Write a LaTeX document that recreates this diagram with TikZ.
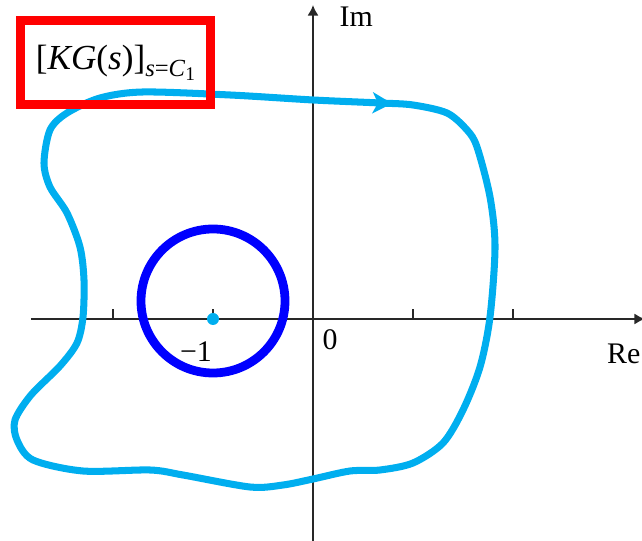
\documentclass[tikz,border=0pt]{standalone}
\usepackage{fontspec}
\setmainfont{Liberation Serif}
\usepackage{tikz}
\usetikzlibrary{arrows.meta, decorations.markings}
\definecolor{locus}{RGB}{0,174,239}
\definecolor{encircle}{RGB}{0,0,255}
\definecolor{highlight}{RGB}{255,0,0}
\definecolor{axisgray}{RGB}{40,40,40}
\newcommand{\subfont}{\fontsize{7}{8}\selectfont}

\begin{document}
\begin{tikzpicture}[font=\fontsize{8.5}{10}\selectfont,
		axis/.style={draw=axisgray,line width=0.6pt,-{Latex[length=3pt,width=3.2pt]}},
		tick/.style={draw=axisgray,line width=0.5pt}]
			\useasboundingbox (-3.13,-2.22) rectangle (3.29,3.19);
			% axes
			\coordinate (west) at (-2.82,0);
			\coordinate (east) at (3.32,0);
			\coordinate (south) at (0,-2.25);
			\coordinate (north) at (0,3.14);
			\draw[axis] (west) -- (east);
			\draw[axis] (south) -- (north);
			\foreach \t in {-2,-1,1,2}
				\draw[tick] (\t,0) -- (\t,0.1);
			\node[anchor=west,inner sep=0pt] (im) at (0.26,3.02) {Im};
			\node[anchor=east,inner sep=0pt] (re) at (3.28,-0.35) {Re};
			\node[inner sep=0pt] (zero) at (0.17,-0.21) {0};
			\node[inner sep=0pt] (minusone) at (-1.17,-0.33) {−1};
			% image of C_1, clockwise
			\draw[locus,line width=2pt,
				postaction={decorate,decoration={markings,
					mark=at position 0.12cm with {\arrow{Stealth[length=5.5pt,width=6pt,inset=1.5pt]}}}}]
				plot[smooth cycle] coordinates {
					(0,2.19) (0.67,2.16) (1.00,2.14) (1.34,2.06) (1.54,1.89) (1.64,1.72)
					(1.77,1.22) (1.82,0.72) (1.77,0.02) (1.67,-0.48) (1.50,-0.91) (1.30,-1.24)
					(1.00,-1.44) (0.67,-1.51) (0.37,-1.52) (0,-1.60) (-0.30,-1.66) (-0.63,-1.68)
					(-1.30,-1.56) (-1.63,-1.51) (-2.30,-1.52) (-2.80,-1.41) (-2.96,-1.21) (-2.98,-1.01)
					(-2.82,-0.76) (-2.53,-0.47) (-2.36,-0.24) (-2.30,0.02) (-2.29,0.39) (-2.33,0.72)
					(-2.46,1.06) (-2.63,1.32) (-2.69,1.56) (-2.63,1.89) (-2.46,2.06) (-2.13,2.21)
					(-1.70,2.27) (-0.83,2.24)};
			% critical point and encirclement
			\coordinate (crit) at (-1,0);
			\fill[locus] (crit) circle (0.06);
			\draw[encircle,line width=2.5pt] (-1,0.18) circle (0.72);
			% label box
			\node[draw=highlight,line width=2.4pt,minimum width=1.90cm,minimum height=0.84cm,
				font=\fontsize{10}{12}\selectfont] (gain) at (-1.975,2.565)
				{[\textit{KG}(\textit{s})]\raisebox{-0.45ex}{\subfont\textit{s}=\textit{C}\raisebox{-0.35ex}{\fontsize{5.5}{6}\selectfont 1}}};
		\end{tikzpicture}
\end{document}
